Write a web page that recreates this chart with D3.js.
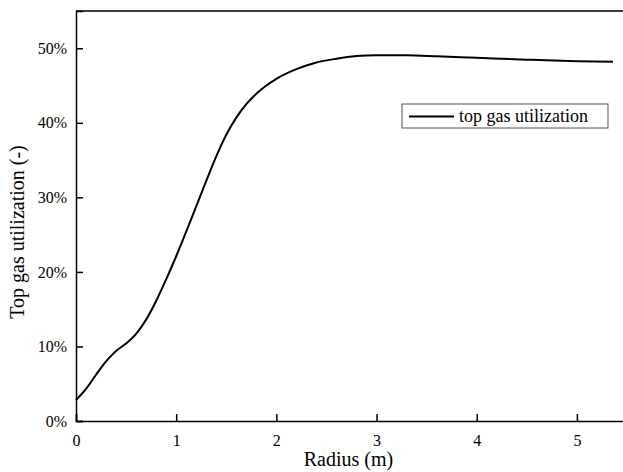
<!DOCTYPE html>
<html>
<head>
<meta charset="utf-8">
<script src="https://cdn.jsdelivr.net/npm/d3@7"></script>
</head>
<body style="margin:0">
<svg id="chart" width="623" height="472" font-family="Liberation Serif"></svg>
<script>
// radius (m) and top gas utilization (fraction)
var radius = [0, 0.1, 0.2, 0.3, 0.4, 0.5, 0.6, 0.7, 0.8, 0.9, 1.0, 1.1, 1.2, 1.3, 1.4, 1.5,
    1.6, 1.7, 1.8, 1.9, 2.0, 2.2, 2.4, 2.6, 2.8, 3.0, 3.3, 3.6, 4.0, 4.5, 5.0, 5.36];
var utilization = [0.028, 0.043, 0.062, 0.080, 0.094, 0.104, 0.117, 0.136, 0.161, 0.190, 0.221, 0.254,
    0.288, 0.322, 0.355, 0.384, 0.407, 0.425, 0.439, 0.450, 0.459, 0.472, 0.481, 0.486, 0.4895, 0.4908,
    0.4905, 0.4892, 0.4872, 0.4847, 0.4827, 0.482];
var xTicks = [0, 1, 2, 3, 4, 5];
var yTicks = [0, 0.1, 0.2, 0.3, 0.4, 0.5];
var seriesName = 'top gas utilization';

var fontName = "'Liberation Serif'";
var svg = d3.select('#chart');
var margin = {l: 76, t: 11, b: 51};
var plotW = 551, plotH = 472 - margin.t - margin.b;

var x = d3.scaleLinear().domain([0, 5.5]).range([0, plotW]);
var y = d3.scaleLinear().domain([0, 0.55]).range([plotH, 0]);

var g = svg.append('g')
    .attr('transform', 'translate(' + [margin.l, margin.t] + ')');

var xAxis = g.append('g')
    .attr('transform', 'translate(0,' + plotH + ')')
    .call(d3.axisBottom(x).tickValues(xTicks).tickSize(-7).tickPadding(14).tickFormat(d3.format('d')));
var yAxis = g.append('g')
    .call(d3.axisLeft(y).tickValues(yTicks).tickSize(-7).tickPadding(9).tickFormat(d3.format('.0%')));

// box: top spine (right one falls outside the window)
g.append('line')
    .attr('x1', 0).attr('x2', plotW)
    .attr('y1', 0).attr('y2', 0)
    .attr('stroke', '#000').attr('stroke-width', 1.5);

[xAxis, yAxis].forEach(function (a) {
    a.attr('font-family', 'Liberation Serif').attr('font-size', 16);
    a.select('.domain').attr('stroke-width', 1.5);
    a.selectAll('.tick line').attr('stroke-width', 1.5);
    a.selectAll('.tick text')
        .style('font-family', fontName)
        .style('font-size', '16px');
});

var pts = radius.map(function (r, i) { return [r, utilization[i]]; });
var line = d3.line()
    .x(function (d) { return x(d[0]); })
    .y(function (d) { return y(d[1]); })
    .curve(d3.curveMonotoneX);

g.append('path')
    .datum(pts)
    .attr('d', line)
    .attr('fill', 'none')
    .attr('stroke', '#000')
    .attr('stroke-width', 2);

// axis titles
svg.append('text')
    .attr('x', margin.l + x(2.72))
    .attr('y', 466)
    .style('font-family', fontName)
    .style('font-size', '20px')
    .style('text-anchor', 'middle')
    .text('Radius (m)');

svg.append('text')
    .attr('transform', 'translate(' + [24, 232] + ') rotate(-90)')
    .style('font-family', fontName)
    .style('font-size', '20px')
    .style('text-anchor', 'middle')
    .text('Top gas utilization (-)');

// legend
var leg = svg.append('g').attr('transform', 'translate(' + [402, 104] + ')');
leg.append('rect')
    .attr('width', 206).attr('height', 24)
    .attr('fill', '#fff').attr('stroke', '#555').attr('stroke-width', 1);
leg.append('line')
    .attr('x1', 7).attr('x2', 52).attr('y1', 12.5).attr('y2', 12.5)
    .attr('stroke', '#000').attr('stroke-width', 2);
leg.append('text')
    .attr('x', 57).attr('y', 18)
    .style('font-family', fontName)
    .style('font-size', '18px')
    .text(seriesName);
</script>
</body>
</html>
